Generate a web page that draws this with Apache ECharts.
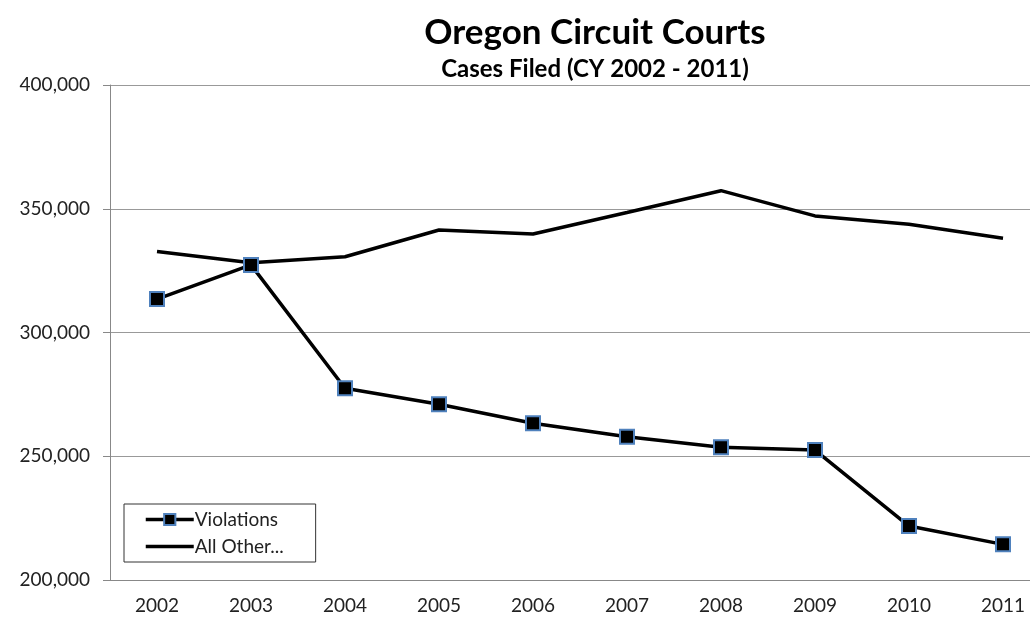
<!DOCTYPE html>
<html style="height: 100%">
<head>
    <meta charset="utf-8">
</head>
<body style="height: 100%; margin: 0; background: #fff; overflow: hidden">
<div id="container" style="width: 1060px; height: 620px"></div>
<script type="text/javascript" src="https://cdn.jsdelivr.net/npm/echarts@6/dist/echarts.min.js"></script>
<script type="text/javascript">
    var years = ['2002', '2003', '2004', '2005', '2006', '2007', '2008', '2009', '2010', '2011'];
    var violations = [313500, 327300, 277500, 271000, 263300, 257900, 253600, 252500, 221800, 214400];
    var allOther = [332700, 328200, 330600, 341400, 339800, 348500, 357300, 347100, 343700, 338100];

    var dom = document.getElementById("container");
    var myChart = echarts.init(dom);
    var font = 'Lato';

    var option = {
        backgroundColor: '#fff',
        animation: false,
        title: [{
            text: 'Oregon Circuit Courts',
            left: 590,
            top: 10,
            textAlign: 'center',
            textStyle: {fontFamily: font, fontSize: 35, fontWeight: 'bold', color: '#000'}
        }, {
            text: 'Cases Filed (CY 2002 - 2011)',
            left: 590,
            top: 52,
            textAlign: 'center',
            textStyle: {fontFamily: font, fontSize: 24, fontWeight: 'bold', color: '#000'}
        }],
        legend: {
            orient: 'vertical',
            left: 124,
            top: 504,
            padding: [6, 32, 6, 20],
            itemGap: 8,
            itemWidth: 48,
            itemHeight: 14,
            borderColor: '#333',
            borderWidth: 1,
            textStyle: {fontFamily: font, fontSize: 19, color: '#222', padding: [0, 0, 0, -4]},
            data: [
                {name: 'Violations', lineStyle: {width: 3.5}},
                {name: 'All Other...', itemStyle: {opacity: 0}, lineStyle: {width: 3.5}}
            ]
        },
        grid: {left: 110, top: 85, width: 940, height: 495},
        xAxis: {
            type: 'category',
            data: years,
            boundaryGap: true,
            axisLine: {lineStyle: {color: '#888', width: 1}},
            axisTick: {length: 6, lineStyle: {color: '#888'}},
            axisLabel: {fontFamily: font, fontSize: 19, color: '#222', margin: 16}
        },
        yAxis: {
            type: 'value',
            min: 200000,
            max: 400000,
            interval: 50000,
            axisLine: {show: true, lineStyle: {color: '#888', width: 1}},
            axisTick: {show: true, length: 7, lineStyle: {color: '#888'}},
            splitLine: {lineStyle: {color: '#999', width: 1}},
            axisLabel: {
                fontFamily: font, fontSize: 19, color: '#222', margin: 20,
                formatter: function (v) { return v.toLocaleString('en-US'); }
            }
        },
        series: [{
            name: 'Violations',
            type: 'line',
            data: violations,
            symbol: 'rect',
            symbolSize: 14,
            lineStyle: {color: '#000', width: 3.5},
            itemStyle: {color: '#000', borderColor: '#4f81bd', borderWidth: 2}
        }, {
            name: 'All Other...',
            type: 'line',
            data: allOther,
            symbol: 'none',
            lineStyle: {color: '#000', width: 3.5},
            itemStyle: {color: '#000'}
        }]
    };

    myChart.setOption(option, true);
</script>
</body>
</html>
